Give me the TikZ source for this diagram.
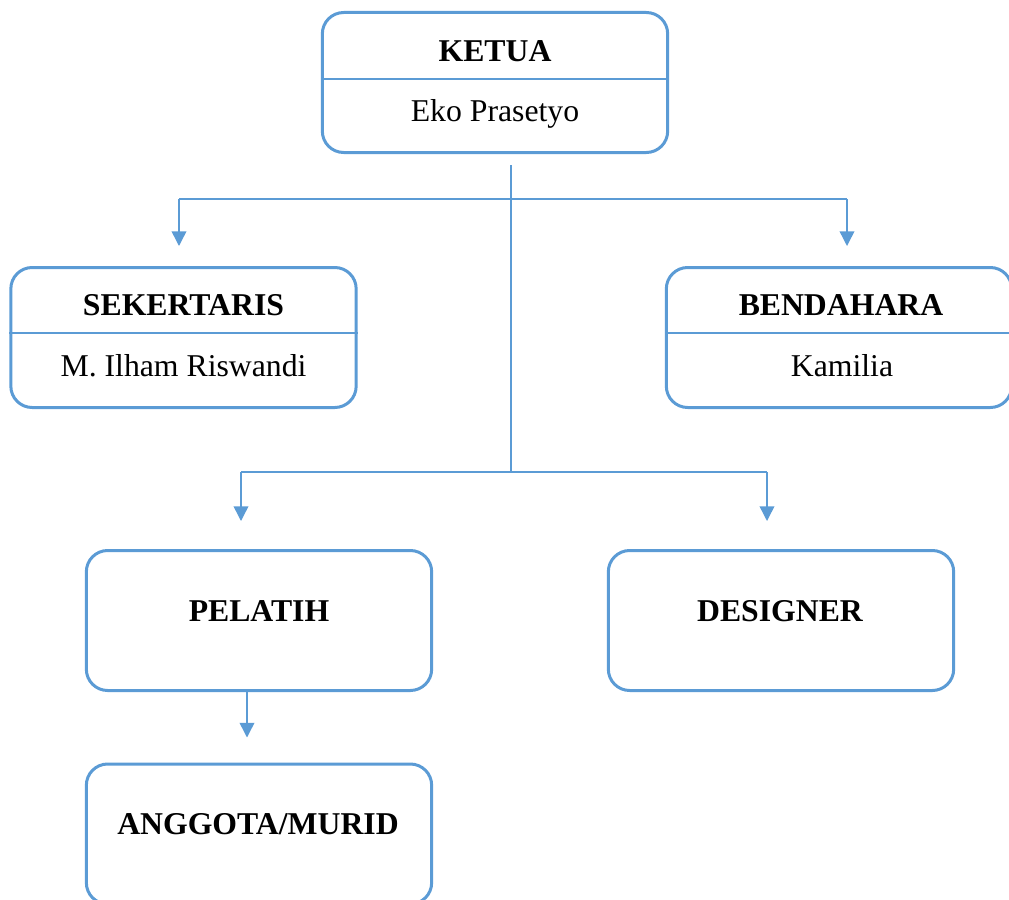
\documentclass[tikz,border=0pt]{standalone}
\usepackage{fontspec}
\setmainfont{Liberation Serif}
\usetikzlibrary{arrows.meta}
\definecolor{boxblue}{RGB}{91,155,213}

\tikzset{every picture/.style={line width=0.75pt}}
\tikzset{
  box/.style={draw=boxblue, line width=2.25pt, rounded corners=16pt, minimum width=259pt, minimum height=105pt, inner sep=0pt},
  divider/.style={draw=boxblue, line width=1.1pt},
  conn/.style={draw=boxblue, line width=1.1pt},
  arr/.style={conn, -{Triangle[width=11pt,length=11pt]}},
  title/.style={font=\fontsize{23.8}{28}\selectfont\bfseries, text height=15.8pt, text depth=0pt, inner sep=0pt},
  person/.style={font=\fontsize{23.8}{28}\selectfont, text height=15.8pt, text depth=0pt, inner sep=0pt},
}

\begin{document}
\begin{tikzpicture}[x=0.75pt,y=0.75pt,yscale=-1,xscale=1]
\useasboundingbox (0,0) rectangle (1009,899);

%Boxes
\node[box] (ketua) at (495,82.5) {};
\node[box] (sek) at (183.5,337.5) {};
\node[box] (bend) at (839,337.5) {};
\node[box] (pel) at (259,620.5) {};
\node[box] (des) at (781,620.5) {};
\node[box] (ang) at (259,834) {};

%Dividers
\draw[divider] (ketua.west |- 0,79) -- (ketua.east |- 0,79);
\draw[divider] (sek.west |- 0,333) -- (sek.east |- 0,333);
\draw[divider] (bend.west |- 0,333) -- (bend.east |- 0,333);

% Text Node
\node[title] (ketuaT) at (495,51) {KETUA};
\node[person] (ketuaN) at (495,110.5) {Eko Prasetyo};
% Text Node
\node[title] (sekT) at (183.5,305) {SEKERTARIS};
\node[person] (sekN) at (183.5,366) {M. Ilham Riswandi};
% Text Node
\node[title] (bendT) at (841,305) {BENDAHARA};
\node[person] (bendN) at (842,366) {Kamilia};
% Text Node
\node[title] (pelT) at (259,611) {PELATIH};
\node[title] (desT) at (780,611) {DESIGNER};
\node[title] (angT) at (258,824) {ANGGOTA/MURID};

%Connectors
\coordinate (trunkTop) at (511,165);
\coordinate (trunkBot) at (511,472);
\coordinate (busL1) at (179,199);
\coordinate (busR1) at (847,199);
\coordinate (busL2) at (241,472);
\coordinate (busR2) at (767,472);

\draw[conn] (trunkTop) -- (trunkBot);
\draw[conn] (busL1) -- (busR1);
\draw[conn] (busL2) -- (busR2);
\draw[arr, shorten >=15pt] (busL1) -- (busL1 |- sek.north);
\draw[arr, shorten >=15pt] (busR1) -- (busR1 |- bend.north);
\draw[arr, shorten >=21pt] (busL2) -- (busL2 |- pel.north);
\draw[arr, shorten >=21pt] (busR2) -- (busR2 |- des.north);
\draw[arr, shorten >=18.75pt] ([xshift=-9pt]pel.south) -- ([xshift=-9pt]ang.north);

\end{tikzpicture}
\end{document}
